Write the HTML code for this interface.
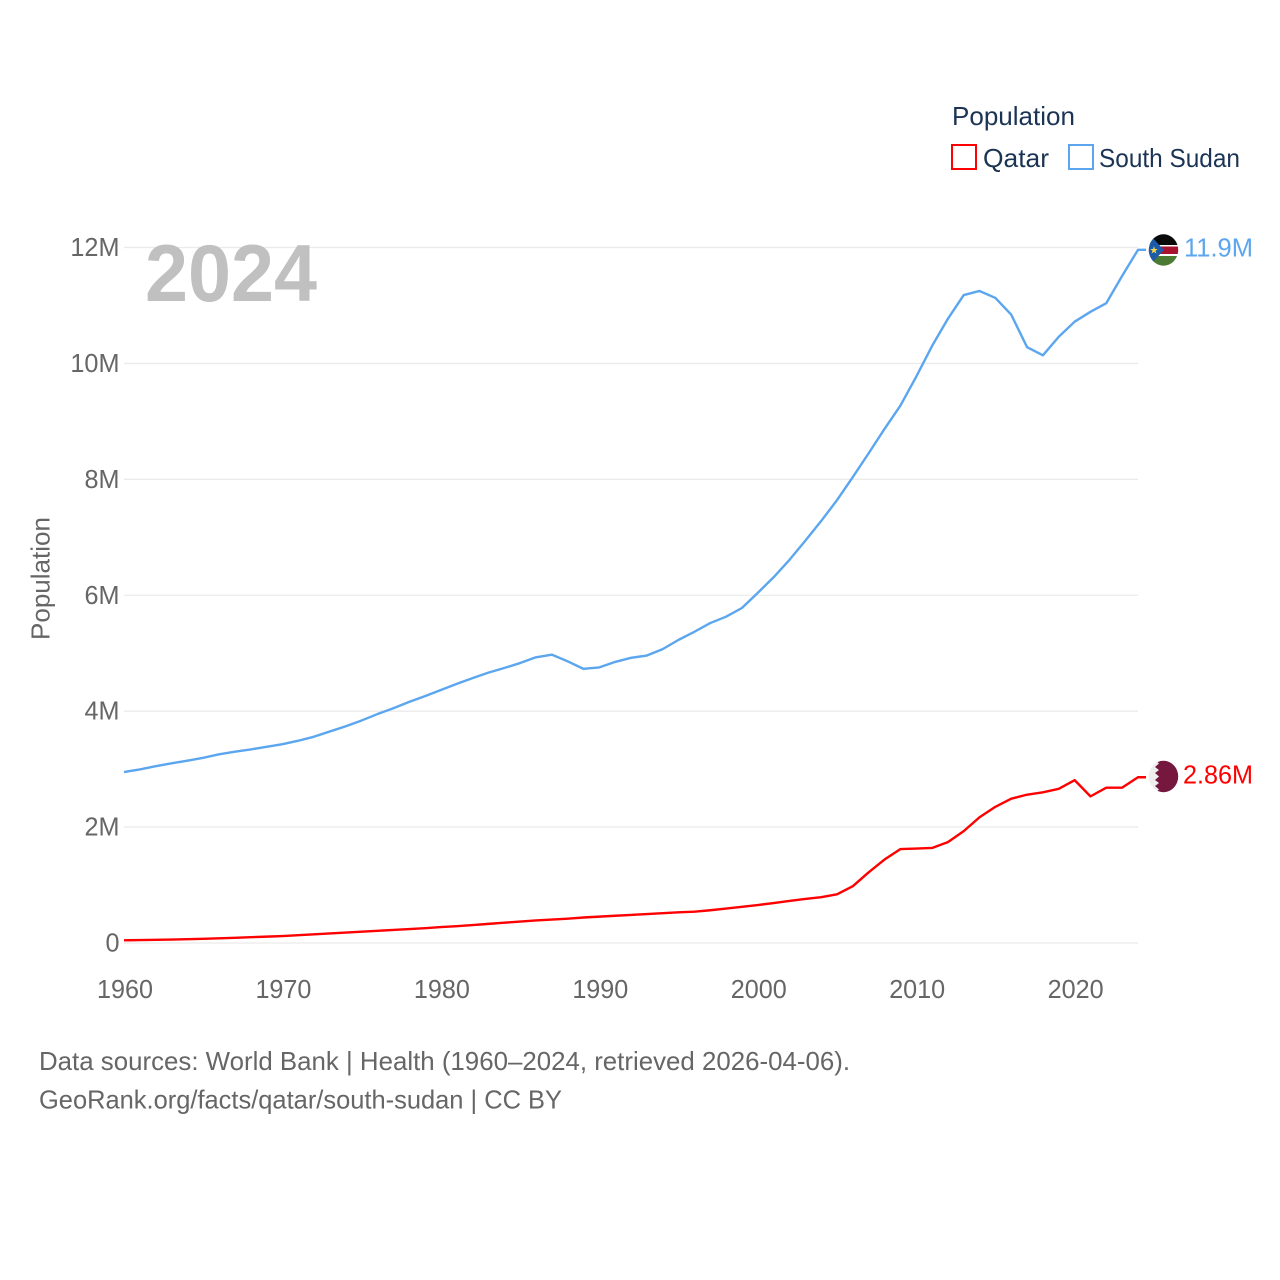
<!DOCTYPE html>
<html lang="en">
<head>
<meta charset="utf-8">
<title>Population: Qatar and South Sudan</title>
<style>
html,body{margin:0;padding:0;background:#fff;}
svg{display:block;font-family:"Liberation Sans",sans-serif;}
</style>
</head>
<body>
<svg id="chart" width="1280" height="1280" viewBox="0 0 1280 1280" xmlns="http://www.w3.org/2000/svg">
  <rect x="0" y="0" width="1280" height="1280" fill="#ffffff"/>
  <g id="grid"></g>
  <g id="ytick-layer"></g>
  <g id="xtick-layer"></g>
  <text x="145" y="301" font-size="81" font-weight="700" fill="#c0c0c0" textLength="172" lengthAdjust="spacingAndGlyphs">2024</text>
  <text transform="translate(49.5,640) rotate(-90)" font-size="26" fill="#666666" textLength="123" lengthAdjust="spacingAndGlyphs">Population</text>
  <g id="series-layer"></g>
  <g id="ss-flag">
    <clipPath id="ss-clip"><ellipse cx="1163.5" cy="250" rx="14.7" ry="15.7"/></clipPath>
    <g clip-path="url(#ss-clip)">
      <rect x="1148" y="234" width="32" height="11" fill="#0a0a0a"/>
      <rect x="1148" y="245" width="32" height="12" fill="#ffffff"/>
      <rect x="1148" y="246.5" width="32" height="7.5" fill="#a8122f"/>
      <rect x="1148" y="256" width="32" height="11" fill="#4a7a33"/>
      <polygon points="1148,233 1164,250 1148,267" fill="#1d5ba8"/>
      <text x="1149.5" y="253.5" font-size="10" fill="#f4d84a">★</text>
    </g>
  </g>
  <g id="qa-flag">
    <clipPath id="qa-clip"><ellipse cx="1163.5" cy="776.5" rx="14.7" ry="15.7"/></clipPath>
    <g clip-path="url(#qa-clip)">
      <rect x="1148" y="760" width="32" height="33" fill="#eeeeee"/>
      <polygon points="1180,760 1155,760 1159,763.5 1155,767 1159,770 1155,773 1159,776.5 1155,780 1159,783 1155,786 1159,789.5 1155,793 1180,793" fill="#76173f"/>
    </g>
  </g>
  <g id="label-layer"></g>
  <g>
    <text x="952" y="125" font-size="26" fill="#1b3454" textLength="123" lengthAdjust="spacingAndGlyphs">Population</text>
    <rect x="952" y="145" width="24" height="24" fill="none" stroke="#ff0000" stroke-width="2"/>
    <text x="983" y="167" font-size="26" fill="#1b3454" textLength="66" lengthAdjust="spacingAndGlyphs">Qatar</text>
    <rect x="1069" y="145" width="24" height="24" fill="none" stroke="#5ba6ee" stroke-width="2"/>
    <text x="1099" y="167" font-size="26" fill="#1b3454" textLength="141" lengthAdjust="spacingAndGlyphs">South Sudan</text>
  </g>
  <g>
    <text x="39" y="1070" font-size="26" fill="#666666" textLength="811" lengthAdjust="spacingAndGlyphs">Data sources: World Bank | Health (1960–2024, retrieved 2026-04-06).</text>
    <text x="39" y="1108.5" font-size="26" fill="#666666" textLength="523" lengthAdjust="spacingAndGlyphs">GeoRank.org/facts/qatar/south-sudan | CC BY</text>
  </g>
</svg>
<script>
var firstYear = 1960;
var yTickValues = [0, 2, 4, 6, 8, 10, 12];
var yTickLabels = ['0', '2M', '4M', '6M', '8M', '10M', '12M'];
var xTickYears = [1960, 1970, 1980, 1990, 2000, 2010, 2020];
var qatarValues = [0.047,0.05,0.055,0.06,0.066,0.073,0.081,0.09,0.1,0.11,0.12,0.135,0.15,0.165,0.18,0.195,0.21,0.225,0.24,0.255,0.275,0.29,0.31,0.33,0.35,0.37,0.39,0.405,0.42,0.44,0.455,0.47,0.485,0.5,0.515,0.53,0.54,0.565,0.595,0.625,0.655,0.69,0.725,0.76,0.79,0.84,0.98,1.22,1.44,1.62,1.63,1.64,1.74,1.93,2.17,2.35,2.49,2.56,2.6,2.66,2.81,2.53,2.68,2.68,2.86];
var southSudanValues = [2.95,2.995,3.05,3.10,3.145,3.195,3.255,3.30,3.34,3.385,3.43,3.49,3.56,3.65,3.74,3.84,3.95,4.05,4.16,4.26,4.365,4.47,4.57,4.665,4.745,4.83,4.93,4.975,4.86,4.73,4.755,4.85,4.92,4.96,5.07,5.23,5.37,5.52,5.63,5.78,6.04,6.31,6.61,6.94,7.28,7.64,8.04,8.45,8.87,9.27,9.77,10.3,10.77,11.18,11.25,11.13,10.84,10.28,10.14,10.46,10.72,10.89,11.04,11.51,11.96];
var qatarLabel = '2.86M';
var southSudanLabel = '11.9M';

var NS = 'http://www.w3.org/2000/svg';
function xScale(year) { return 124 + (year - 1960) * (1138 - 124) / 64; }
function yScale(v) { return 943 - v * (943 - 247.5) / 12; }
function make(tag, parent) {
  var el = document.createElementNS(NS, tag);
  document.getElementById(parent).appendChild(el);
  return el;
}
function lineString(values) {
  var pts = values.map(function (v, i) {
    return xScale(firstYear + i).toFixed(2) + ',' + yScale(v).toFixed(2);
  });
  var last = values[values.length - 1];
  pts.push((xScale(firstYear + values.length - 1) + 8).toFixed(2) + ',' + yScale(last).toFixed(2));
  return pts.join(' ');
}

yTickValues.forEach(function (v, i) {
  var line = make('line', 'grid');
  
  
  line.setAttribute('x1', 124);
  line.setAttribute('x2', 1138);
  line.setAttribute('y1', yScale(v));
  line.setAttribute('y2', yScale(v));
  line.setAttribute('stroke', '#ebebeb');
  line.setAttribute('stroke-width', '1.3');
  var t = make('text', 'ytick-layer');
  
  
  t.setAttribute('x', 119.5);
  t.setAttribute('y', yScale(v) + 8.5);
  t.setAttribute('text-anchor', 'end');
  t.setAttribute('font-size', '26');
  t.setAttribute('fill', '#666666');
  t.textContent = yTickLabels[i];
  t.setAttribute('textLength', (t.getComputedTextLength() * 0.97).toFixed(1));
  t.setAttribute('lengthAdjust', 'spacingAndGlyphs');
});

xTickYears.forEach(function (year) {
  var t = make('text', 'xtick-layer');
  
  
  t.setAttribute('x', xScale(year) + 1);
  t.setAttribute('y', 998);
  t.setAttribute('text-anchor', 'middle');
  t.setAttribute('font-size', '26');
  t.setAttribute('fill', '#666666');
  t.textContent = String(year);
  t.setAttribute('textLength', '56');
  t.setAttribute('lengthAdjust', 'spacingAndGlyphs');
});

var ssLine = make('polyline', 'series-layer');


ssLine.setAttribute('points', lineString(southSudanValues));
ssLine.setAttribute('fill', 'none');
ssLine.setAttribute('stroke', '#5ba6ee');
ssLine.setAttribute('stroke-width', '2.4');
ssLine.setAttribute('stroke-linejoin', 'round');

var qaLine = make('polyline', 'series-layer');


qaLine.setAttribute('points', lineString(qatarValues));
qaLine.setAttribute('fill', 'none');
qaLine.setAttribute('stroke', '#ff0000');
qaLine.setAttribute('stroke-width', '2.4');
qaLine.setAttribute('stroke-linejoin', 'round');

var ssText = make('text', 'label-layer');


ssText.setAttribute('x', 1184);
ssText.setAttribute('y', yScale(southSudanValues[southSudanValues.length - 1]) + 6.5);
ssText.setAttribute('font-size', '26');
ssText.setAttribute('fill', '#5ba6ee');
ssText.setAttribute('textLength', '69');
ssText.setAttribute('lengthAdjust', 'spacingAndGlyphs');
ssText.textContent = southSudanLabel;

var qaText = make('text', 'label-layer');


qaText.setAttribute('x', 1183);
qaText.setAttribute('y', yScale(qatarValues[qatarValues.length - 1]) + 6.5);
qaText.setAttribute('font-size', '26');
qaText.setAttribute('fill', '#ff0000');
qaText.setAttribute('textLength', '70');
qaText.setAttribute('lengthAdjust', 'spacingAndGlyphs');
qaText.textContent = qatarLabel;
</script>
</body>
</html>
